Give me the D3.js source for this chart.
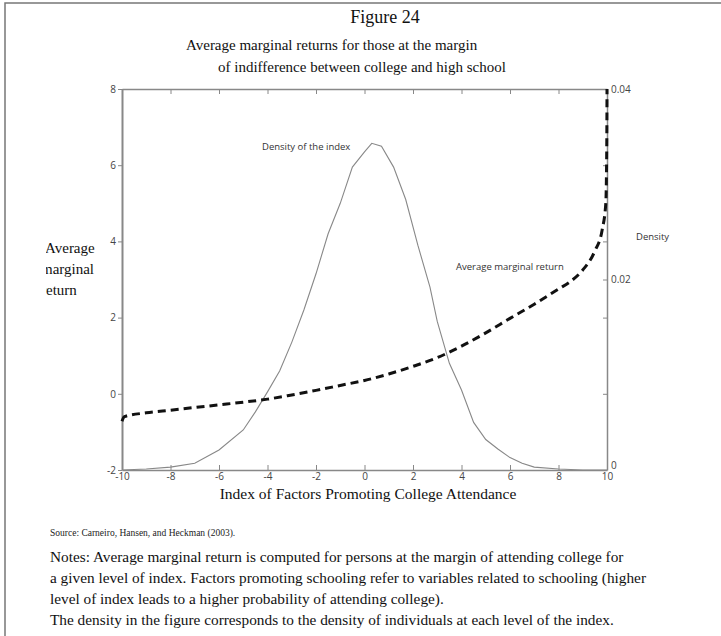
<!DOCTYPE html>
<html>
<head>
<meta charset="utf-8">
<script src="https://cdn.jsdelivr.net/npm/d3@7"></script>
<style>
  body { margin: 0; background: #fff; }
  .tick text { font-family: "Open Sans", sans-serif; fill: #444; }
</style>
</head>
<body>
<svg id="chart" width="721" height="636"></svg>
<script>
// index values along the x axis and the density of the index (right axis)
const DENSITY_X = [-10, -9, -8, -7, -6, -5, -4.5, -4, -3.5, -3, -2.5, -2, -1.5, -1, -0.5, 0, 0.3, 0.7, 1.2, 1.7, 2.2, 2.7, 3, 3.5, 4, 4.5, 5, 5.5, 6, 6.5, 7, 8, 9, 10];
const DENSITY_Y = [0, 0.0001, 0.0003, 0.0007, 0.0021, 0.0042, 0.0061, 0.0082, 0.0104, 0.0134, 0.0168, 0.0206, 0.0248, 0.028, 0.0318, 0.0334, 0.0343, 0.034, 0.0318, 0.0284, 0.0236, 0.0192, 0.0156, 0.0112, 0.0084, 0.005, 0.0032, 0.0022, 0.0013, 0.0007, 0.0003, 0.0001, 0, 0];

// average marginal return (left axis)
const AMR_X = [-10, -9.9, -9, -8, -7, -6, -5, -4, -3, -2, -1, 0, 1, 2, 3, 4, 5, 6, 7, 8, 8.5, 9, 9.5, 9.8, 9.95, 9.99, 10];
const AMR_Y = [-0.72, -0.6, -0.5, -0.43, -0.36, -0.29, -0.22, -0.14, -0.03, 0.09, 0.22, 0.35, 0.52, 0.72, 0.95, 1.25, 1.6, 1.98, 2.35, 2.75, 2.95, 3.25, 3.75, 4.3, 5.0, 6.5, 8];

const X_TICKS = [-10, -8, -6, -4, -2, 0, 2, 4, 6, 8, 10];
const LEFT_TICKS = [-2, 0, 2, 4, 6, 8];
const RIGHT_TICKS = [0, 0.008, 0.016, 0.02, 0.024, 0.032, 0.04];
const RIGHT_LABELS = [0, 0.02, 0.04];

const TITLE = "Figure 24";
const SUBTITLE = ["Average marginal returns for those at the margin", "of indifference between college and high school"];
const Y_LABEL = ["Average", "marginal", "return"];
const NOTES = [
  "Notes: Average marginal return is computed for persons at the margin of attending college for",
  "a given level of index. Factors promoting schooling refer to variables related to schooling (higher",
  "level of index leads to a higher probability of attending college).",
  "The density in the figure corresponds to the density of individuals at each level of the index."
];

const svg = d3.select("#chart");
const SERIF = "'Liberation Serif', 'Times New Roman', serif";
const SANS = "'Open Sans', sans-serif";

// page frame (top and left edge only)
svg.append("path").attr("d", "M5,636V3H721").attr("fill", "none").attr("stroke", "#777").attr("stroke-width", 1.5);

let x = d3.scaleLinear().domain([-10, 10]).range([122, 607]);
let yL = d3.scaleLinear().domain([-2, 8]).range([470, 89]);
let yR = d3.scaleLinear().domain([0, 0.04]).range([470, 89]);

// plain hyphen for negatives, like the scan
const fmt = d => String(d);

let gBottom = svg.append("g").attr("transform", "translate(0,470)")
  .call(d3.axisBottom(x).tickValues(X_TICKS).tickSizeInner(-5).tickSizeOuter(0).tickPadding(3).tickFormat(fmt));
let gTop = svg.append("g").attr("transform", "translate(0,89)")
  .call(d3.axisTop(x).tickValues(X_TICKS).tickSizeInner(-5).tickSizeOuter(0).tickFormat(""));
let gLeft = svg.append("g").attr("transform", "translate(122,0)")
  .call(d3.axisLeft(yL).tickValues(LEFT_TICKS).tickSizeInner(4).tickSizeOuter(0).tickPadding(2).tickFormat(fmt));
let gRight = svg.append("g").attr("transform", "translate(607,0)")
  .call(d3.axisRight(yR).tickValues(RIGHT_TICKS).tickSizeInner(-4).tickSizeOuter(0).tickPadding(4)
    .tickFormat(d => RIGHT_LABELS.includes(d) ? fmt(d) : ""));

[gBottom, gTop, gLeft, gRight].forEach(g => {
  g.select(".domain").attr("stroke", "#888").attr("stroke-width", 1.5);
  g.selectAll(".tick line").attr("stroke", "#888");
  g.selectAll(".tick text").attr("font-size", "10px");
});
gLeft.select(".domain").attr("stroke-width", 2);
// the "0" of the density axis sits a little above the corner
gRight.selectAll(".tick text").filter(d => d === 0).attr("dy", "-0.15em");

// density of the index
let density = DENSITY_X.map((v, i) => ({x: v, y: DENSITY_Y[i]}));
svg.append("path")
  .datum(density)
  .attr("fill", "none")
  .attr("stroke", "#888")
  .attr("stroke-width", 1.1)
  .attr("d", d3.line().x(d => x(d.x)).y(d => yR(d.y)));

// average marginal return
let amr = AMR_X.map((v, i) => ({x: v, y: AMR_Y[i]}));
svg.append("path")
  .datum(amr)
  .attr("fill", "none")
  .attr("stroke", "#111")
  .attr("stroke-width", 3)
  .attr("stroke-dasharray", "8,5")
  .attr("d", d3.line().curve(d3.curveMonotoneX).x(d => x(d.x)).y(d => yL(d.y)));

// annotations
svg.append("text").attr("x", 262).attr("y", 150).attr("font-family", SANS).attr("font-size", "9.5px").attr("fill", "#333").text("Density of the index");
svg.append("text").attr("x", 456).attr("y", 270).attr("font-family", SANS).attr("font-size", "9.5px").attr("fill", "#333").text("Average marginal return");
svg.append("text").attr("x", 636).attr("y", 240).attr("font-family", SANS).attr("font-size", "9.5px").attr("fill", "#333").text("Density");

// titles
svg.append("text").attr("x", 385).attr("y", 23).attr("text-anchor", "middle").attr("font-family", SERIF).attr("font-size", "18px").attr("fill", "#111").text(TITLE);
svg.append("text").attr("x", 186).attr("y", 50).attr("font-family", SERIF).attr("font-size", "15px").attr("fill", "#111").text(SUBTITLE[0]);
svg.append("text").attr("x", 218).attr("y", 72).attr("font-family", SERIF).attr("font-size", "15px").attr("fill", "#111").text(SUBTITLE[1]);

// left y label, clipped like the original scan
svg.append("clipPath").attr("id", "ylab-clip").append("rect").attr("x", 46).attr("y", 200).attr("width", 80).attr("height", 120);
let ylab = svg.append("g").attr("clip-path", "url(#ylab-clip)");
Y_LABEL.forEach((t, i) => {
  ylab.append("text").attr("x", i === 0 ? 45 : 41).attr("y", 253 + i * 21)
    .attr("font-family", SERIF).attr("font-size", "15px").attr("fill", "#111").text(t);
});

// x axis title
svg.append("text").attr("x", 368).attr("y", 499).attr("text-anchor", "middle").attr("font-family", SERIF).attr("font-size", "15.5px").attr("fill", "#111")
  .text("Index of Factors Promoting College Attendance");

// source and notes
svg.append("text").attr("x", 50).attr("y", 536).attr("font-family", SERIF).attr("font-size", "9.5px").attr("fill", "#222")
  .text("Source: Carneiro, Hansen, and Heckman (2003).");
NOTES.forEach((t, i) => {
  svg.append("text").attr("x", 50).attr("y", 562 + i * 21).attr("font-family", SERIF).attr("font-size", "15.3px").attr("fill", "#111").text(t);
});
</script>
</body>
</html>
